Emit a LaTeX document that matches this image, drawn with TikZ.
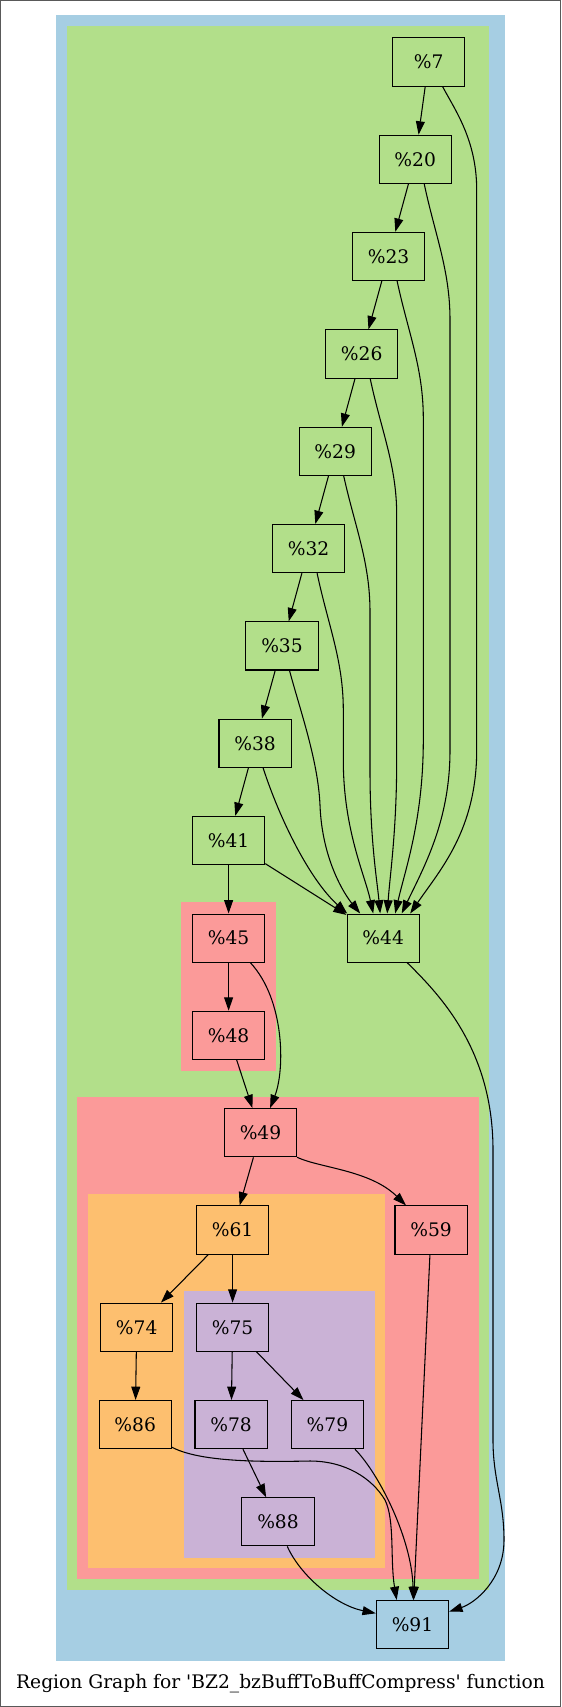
\documentclass[tikz,border=0pt]{standalone}
\usepackage{fontspec}
\setmainfont{DejaVu Serif}
\usetikzlibrary{arrows.meta, calc}

\definecolor{regblue}{HTML}{A6CEE3}
\definecolor{reggreen}{HTML}{B2DF8A}
\definecolor{regpink}{HTML}{FB9A99}
\definecolor{regorange}{HTML}{FDBF6F}
\definecolor{regpurple}{HTML}{CAB2D6}

\begin{document}
\begin{tikzpicture}[
  x=0.75pt,
  y=-0.75pt,
  >={Triangle[length=10pt, width=6.7pt]},
  font=\fontsize{14pt}{17pt}\selectfont,
  block/.style={draw, line width=0.8pt, inner sep=0pt,
    minimum width=54.2pt, minimum height=36.1pt},
  arrow/.style={->, line width=0.8pt},
  frame/.style={draw=black!65, line width=0.75pt}
]
  \useasboundingbox (0,0) rectangle (561,1707);
  \draw[frame] (0.5,0.5) rectangle (560.5,1706.5);

  % Nested regions, outermost first.
  \fill[regblue]   (56.2,15.3)   rectangle (504.8,1660.5);
  \fill[reggreen]  (66.9,26)     rectangle (489.1,1589.5);
  \fill[regpink]   (181.4,902.3) rectangle (275.5,1070.7);
  \fill[regpink]   (77.3,1096.7) rectangle (478.5,1579);
  \fill[regorange] (88,1194)     rectangle (384.8,1568.4);
  \fill[regpurple] (183.9,1291.4) rectangle (374.5,1557.8);

  % Basic blocks.
  \node[block] at (428.6,62)    (n7)  {\%7};
  \node[block] at (415.2,159.2) (n20) {\%20};
  \node[block] at (388.6,256.4) (n23) {\%23};
  \node[block] at (361.7,354)   (n26) {\%26};
  \node[block] at (335.2,451.4) (n29) {\%29};
  \node[block] at (308.6,548.6) (n32) {\%32};
  \node[block] at (282,645.9)   (n35) {\%35};
  \node[block] at (255.1,743.3) (n38) {\%38};
  \node[block] at (228.6,840.5) (n41) {\%41};
  \node[block] at (383.2,938.1) (n44) {\%44};
  \node[block] at (228.6,938.1) (n45) {\%45};
  \node[block] at (228.6,1035.3)(n48) {\%48};
  \node[block] at (260.5,1132.7)(n49) {\%49};
  \node[block] at (232.6,1230)  (n61) {\%61};
  \node[block] at (431.1,1230)  (n59) {\%59};
  \node[block] at (136.7,1327.2)(n74) {\%74};
  \node[block] at (232.6,1327.2)(n75) {\%75};
  \node[block] at (135.2,1424.6)(n86) {\%86};
  \node[block] at (231.1,1424.6)(n78) {\%78};
  \node[block] at (327.4,1424.6)(n79) {\%79};
  \node[block] at (278,1521.8)  (n88) {\%88};
  \node[block] at (412.5,1624.6)(n91) {\%91};

  % Chain down the left.
  \draw[arrow] (n7)  -- (n20);
  \draw[arrow] (n20) -- (n23);
  \draw[arrow] (n23) -- (n26);
  \draw[arrow] (n26) -- (n29);
  \draw[arrow] (n29) -- (n32);
  \draw[arrow] (n32) -- (n35);
  \draw[arrow] (n35) -- (n38);
  \draw[arrow] (n38) -- (n41);
  \draw[arrow] (n41) -- (n45);
  \draw[arrow] (n41) -- (n44);

  % Early exits into %44.
  \draw[arrow] ($(n7.south)+(14,0)$) .. controls (455,110) and (476.7,140) .. (476.7,190)
    -- (476.7,750) .. controls (476.7,830) and (440,870) .. ($(n44.north)+(27,0)$);
  \draw[arrow] ($(n20.south)+(9,0)$) .. controls (435,235) and (450,270) .. (450,320)
    -- (450,750) .. controls (450,820) and (425,865) .. ($(n44.north)+(18.5,0)$);
  \draw[arrow] ($(n23.south)+(8.5,0)$) .. controls (408,332) and (423.3,368) .. (423.3,418)
    -- (423.3,740) .. controls (423.3,820) and (405,870) .. ($(n44.north)+(12,0)$);
  \draw[arrow] ($(n26.south)+(8.5,0)$) .. controls (381,430) and (396.7,465) .. (396.7,515)
    -- (396.7,760) .. controls (396.7,830) and (390,875) .. ($(n44.north)+(4,0)$);
  \draw[arrow] ($(n29.south)+(8.5,0)$) .. controls (355,527) and (370,562) .. (370,612)
    -- (370,770) .. controls (370,840) and (377,880) .. ($(n44.north)+(-3,0)$);
  \draw[arrow] ($(n32.south)+(8.5,0)$) .. controls (328,625) and (343.3,660) .. (343.3,710)
    -- (343.3,760) .. controls (343.3,830) and (365,875) .. ($(n44.north)+(-10,0)$);
  \draw[arrow] ($(n35.south)+(7.5,0)$) .. controls (300,710) and (318,760) .. (320,805)
    .. controls (322,860) and (345,895) .. ($(n44.north)+(-23,0)$);
  \draw[arrow] ($(n38.south)+(8,0)$) .. controls (280,820) and (310,880) .. ($(n44.north)+(-36,0)$);

  % Inner regions.
  \draw[arrow] (n45) -- (n48);
  \draw[arrow] ($(n45.south)+(21.8,0)$) .. controls (285,1000) and (285,1070) .. ($(n49.north)+(9.6,0)$);
  \draw[arrow] (n48) -- (n49);
  \draw[arrow] (n49) -- (n61);
  \draw[arrow] (n49.south east) .. controls (320,1168) and (370,1170) .. ($(n59.north)+(-25.1,0)$);
  \draw[arrow] (n61) -- (n74);
  \draw[arrow] (n61) -- (n75);
  \draw[arrow] (n74) -- (n86);
  \draw[arrow] (n75) -- (n78);
  \draw[arrow] (n75) -- (n79);
  \draw[arrow] (n78) -- (n88);

  % Everything ends in %91.
  \draw[arrow] (n59) -- (n91);
  \draw[arrow] ($(n79.south)+(27.6,0)$) .. controls (380,1475) and (412,1540) .. ($(n91.north)+(0.8,0)$);
  \draw[arrow] ($(n86.south east)+(0,-2)$) .. controls (200,1462) and (260,1462) .. (310,1461)
    .. controls (345,1461) and (372,1478) .. (385,1500)
    .. controls (395,1520) and (390,1560) .. ($(n91.north)+(-15.8,0)$);
  \draw[arrow] ($(n88.south)+(9.3,0)$) .. controls (300,1575) and (335,1605) .. ($(n91.west)+(0,-11.3)$);
  \draw[arrow] ($(n44.south)+(24,0)$) .. controls (440,995) and (493,1050) .. (493,1150)
    -- (493,1440) .. controls (493,1480) and (504,1500) .. (504,1540)
    .. controls (504,1580) and (475,1603) .. ($(n91.east)+(0,-13)$);

  \node at (280.5,1684) (caption) {Region Graph for \textquotesingle BZ2\_bzBuffToBuffCompress\textquotesingle{} function};

\end{tikzpicture}
\end{document}
